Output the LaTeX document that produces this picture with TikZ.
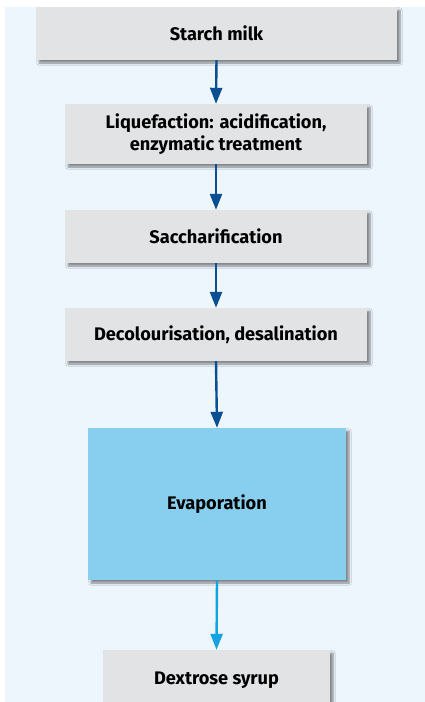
\documentclass[tikz,border=0pt]{standalone}
\usepackage{fontspec}
\setmainfont{Fira Sans}
\usetikzlibrary{arrows.meta,shadows.blur}
\definecolor{bgblue}{HTML}{EEF6FD}
\definecolor{boxgray}{HTML}{E2E3E5}
\definecolor{evapblue}{HTML}{87CEEF}
\definecolor{flowdark}{HTML}{0A4F93}
\definecolor{flowcyan}{HTML}{12A3E0}
\tikzset{
  x=1pt, y=1pt,
  stage/.style={fill=boxgray, draw=none, inner sep=0pt, align=center,
    font=\bfseries\fontsize{18.2}{22}\selectfont,
    blur shadow={shadow xshift=3pt, shadow yshift=-3pt, shadow blur steps=6, shadow opacity=45}},
  flow/.style={draw=flowdark, line width=2.4pt, -{Triangle[length=16pt,width=12pt]}},
  flowlast/.style={flow, draw=flowcyan}
}
\begin{document}
\begin{tikzpicture}
\useasboundingbox (0,0) rectangle (425,-702);
\clip (0,0) rectangle (425,-702);
% page background panel
\fill[bgblue] (5,-7) rectangle (425,-702);

% process stages
\node[stage, minimum width=361pt, minimum height=53pt] (starch) at (216.5,-33.5) {Starch milk};
\node[stage, minimum width=302pt, minimum height=60pt] (liq) at (216,-134) {Liquefaction: acidification,\\enzymatic treatment};
\node[stage, minimum width=302pt, minimum height=53pt] (sacch) at (216,-236.5) {Saccharification};
\node[stage, minimum width=302pt, minimum height=53pt] (decol) at (216,-334.5) {Decolourisation, desalination};
\node[stage, fill=evapblue, minimum width=258pt, minimum height=152pt] (evap) at (217,-504) {Evaporation};
\node[stage, minimum width=227pt, minimum height=60pt] (dex) at (216.5,-680) {Dextrose syrup};

% connectors
\draw[flow] (starch.south) -- (liq.north);
\draw[flow] (liq.south) -- (sacch.north);
\draw[flow] (sacch.south) -- (decol.north);
\draw[flow] (decol.south) -- (evap.north);
\draw[flowlast] (evap.south) -- (dex.north);
\end{tikzpicture}
\end{document}
